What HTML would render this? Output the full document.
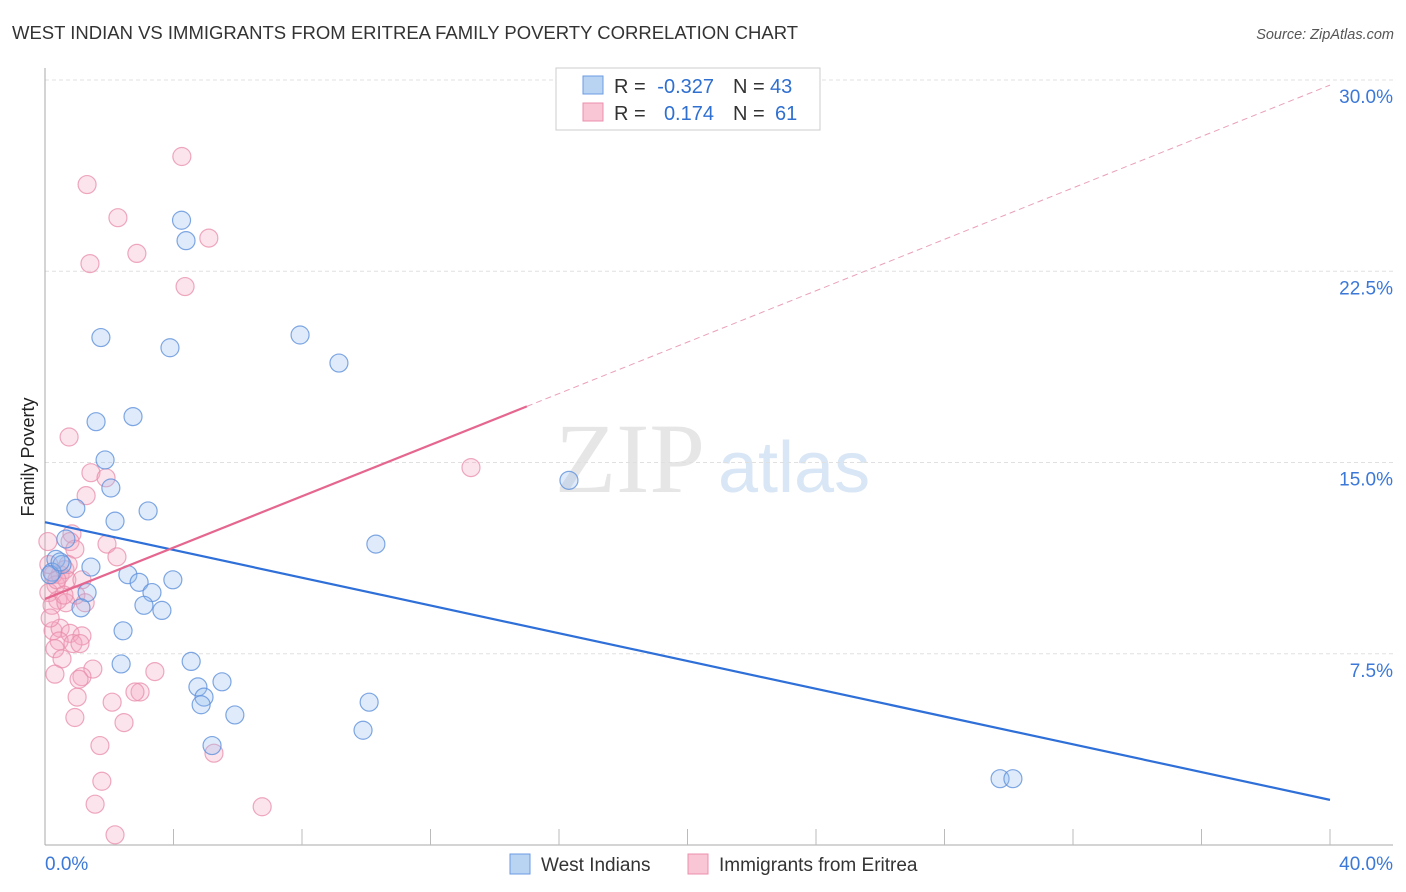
<!DOCTYPE html>
<html><head><meta charset="utf-8"><style>
body{margin:0;background:#fff;font-family:"Liberation Sans",sans-serif}
svg{display:block}
</style></head><body>
<svg id="c" width="1406" height="892">
<text x="12" y="39" font-size="18.5" fill="#333">WEST INDIAN VS IMMIGRANTS FROM ERITREA FAMILY POVERTY CORRELATION CHART</text>
<text x="1394" y="39" font-size="14.5" fill="#555" font-style="italic" text-anchor="end">Source: ZipAtlas.com</text>
<text x="34" y="457" font-size="18" fill="#222" text-anchor="middle" transform="rotate(-90 34 457)">Family Poverty</text>
<text x="555" y="492" font-size="100" fill="#e6e6e6" font-family="Liberation Serif,serif">ZIP</text>
<text x="718" y="492" font-size="72" fill="#d9e6f5">atlas</text>
<g id="grid"></g><g id="pts"></g><g id="lines"></g>
<g font-size="20">
<rect x="556" y="68" width="264" height="62" fill="#fff" stroke="#ccc"/>
<rect x="583" y="76" width="20" height="18" fill="#b9d3f3" stroke="#6a9be0"/>
<rect x="583" y="103" width="20" height="18" fill="#f9c6d6" stroke="#ec8fac"/>
<text x="614" y="93" fill="#333">R =</text>
<text x="714" y="93" fill="#2f6fd0" text-anchor="end">-0.327</text>
<text x="733" y="93" fill="#333">N =</text>
<text x="770" y="93" fill="#2f6fd0">43</text>
<text x="614" y="120" fill="#333">R =</text>
<text x="714" y="120" fill="#2f6fd0" text-anchor="end">0.174</text>
<text x="733" y="120" fill="#333">N =</text>
<text x="775" y="120" fill="#2f6fd0">61</text>
</g>
<g>
<rect x="510" y="854" width="20" height="20" fill="#b9d3f3" stroke="#6a9be0"/>
<text x="541" y="871" font-size="19" fill="#333">West Indians</text>
<rect x="688" y="854" width="20" height="20" fill="#f9c6d6" stroke="#ec8fac"/>
<text x="719" y="871" font-size="19" fill="#333">Immigrants from Eritrea</text>
</g>
</svg>
<script>
const yTicks=[7.5,15,22.5,30];
const blueX=[4.25,4.39,1.74,3.89,7.94,9.15,1.59,2.74,1.87,2.05,16.31,0.96,3.21,2.18,10.30,0.65,0.34,0.53,1.43,0.22,2.58,2.93,3.98,1.31,3.33,3.08,3.64,1.12,2.43,2.37,4.55,5.51,4.76,4.95,4.86,5.91,10.09,9.90,5.20,29.73,30.13,0.16,0.47];
const blueY=[24.5,23.7,19.9,19.5,20.0,18.9,16.6,16.8,15.1,14.0,14.3,13.2,13.1,12.7,11.8,12.0,11.2,11.0,10.9,10.7,10.6,10.3,10.4,9.9,9.9,9.4,9.2,9.3,8.4,7.1,7.2,6.4,6.2,5.8,5.5,5.1,5.6,4.5,3.9,2.6,2.6,10.6,11.1];
const pinkX=[4.26,1.31,2.27,5.10,2.86,1.40,4.36,0.75,13.26,1.43,1.90,1.28,0.84,0.78,0.93,1.93,2.24,0.09,0.25,0.47,0.62,0.34,0.68,1.15,0.12,0.40,0.96,1.25,0.22,0.65,0.25,0.47,0.78,1.15,0.44,0.87,0.31,0.53,1.09,1.49,1.15,0.31,1.06,2.96,2.80,1.00,2.09,3.42,0.93,2.46,1.71,5.26,1.77,1.56,6.76,2.18,0.12,0.37,0.72,0.16,0.59];
const pinkY=[27.0,25.9,24.6,23.8,23.2,22.8,21.9,16.0,14.8,14.6,14.4,13.7,12.2,11.9,11.6,11.8,11.3,11.9,10.6,10.6,10.8,10.2,10.4,10.4,9.9,9.6,9.8,9.5,9.4,9.5,8.4,8.5,8.3,8.2,8.0,7.9,7.7,7.3,7.9,6.9,6.6,6.7,6.5,6.0,6.0,5.8,5.6,6.8,5.0,4.8,3.9,3.6,2.5,1.6,1.5,0.4,11.0,10.4,11.0,8.9,9.8];
const X=v=>45+v*32.125, Y=v=>845-v*25.5;
const ns="http://www.w3.org/2000/svg";
function mk(t,a,p){const e=document.createElementNS(ns,t);for(const k in a)e.setAttribute(k,a[k]);p.appendChild(e);return e;}
const g=document.getElementById('grid');
yTicks.forEach(t=>{
 const l=mk('line',{x1:45,x2:1393,y1:Y(t),y2:Y(t),stroke:'#e0e0e0','stroke-dasharray':'4,3'},g);
 
 
 const tx=mk('text',{x:1393,y:Y(t)+23,'font-size':19,fill:'#3b78d8','text-anchor':'end'},g);
 tx.textContent=t.toFixed(1)+'%';
 
 
});
mk('line',{x1:45,x2:45,y1:68,y2:845,stroke:'#aaa'},g);
mk('line',{x1:45,x2:1393,y1:845,y2:845,stroke:'#aaa'},g);
for(let i=1;i<=10;i++){mk('line',{x1:X(i*4),x2:X(i*4),y1:829,y2:845,stroke:'#bbb'},g);}
const xl=mk('text',{x:45,y:870,'font-size':19,fill:'#3b78d8'},g);xl.textContent='0.0%';


const xr=mk('text',{x:1393,y:870,'font-size':19,fill:'#3b78d8','text-anchor':'end'},g);xr.textContent='40.0%';


const p=document.getElementById('pts');
pinkX.forEach((x,i)=>{const c=mk('circle',{cx:X(x),cy:Y(pinkY[i]),r:9,fill:'rgba(245,165,192,0.3)',stroke:'rgba(232,140,170,0.75)','stroke-width':1.2},p);
 
 });
blueX.forEach((x,i)=>{const c=mk('circle',{cx:X(x),cy:Y(blueY[i]),r:9,fill:'rgba(150,190,240,0.3)',stroke:'rgba(95,145,220,0.8)','stroke-width':1.2},p);
 
 });
const L=document.getElementById('lines');
const b=mk('line',{x1:X(0),y1:Y(12.66),x2:X(40),y2:Y(1.77),stroke:'#2f6fd8','stroke-width':2.2},L);


const pk=mk('line',{x1:X(0),y1:Y(9.65),x2:X(15),y2:Y(17.2),stroke:'#e5668f','stroke-width':2.2},L);


const pd=mk('line',{x1:X(15),y1:Y(17.2),x2:X(40),y2:Y(29.8),stroke:'#eaa0b8','stroke-width':1,'stroke-dasharray':'6,4'},L);


</script>
</body></html>
